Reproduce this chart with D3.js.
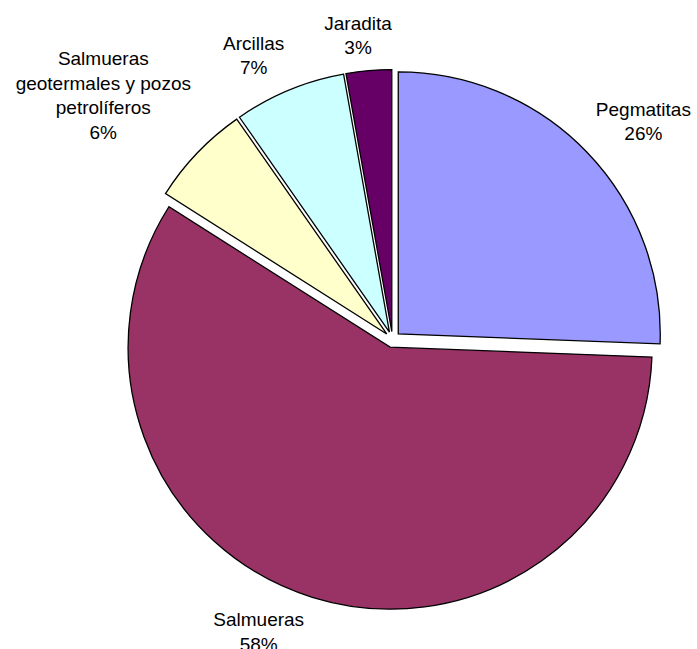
<!DOCTYPE html>
<html>
<head>
<meta charset="utf-8">
<script src="https://cdn.jsdelivr.net/npm/d3@7"></script>
<style>
  html, body { margin: 0; padding: 0; background: #fff; }
  svg { display: block; }
  text { font-family: "Liberation Sans", Arial, sans-serif; font-size: 19px; fill: #000; }
</style>
</head>
<body>
<svg id="chart" width="697" height="649"></svg>
<script>
// Lithium sources: share of each deposit type (percent)
const sources = ["Pegmatitas", "Salmueras", "Salmueras geotermales y pozos petrolíferos", "Arcillas", "Jaradita"];
const shares = [25.6, 58.4, 6.3, 6.9, 2.8];
const colors = ["#9999FF", "#993366", "#FFFFCC", "#CCFFFF", "#660066"];
// Line breaks used for each label's name
const labelLines = [["Pegmatitas"], ["Salmueras"], ["Salmueras", "geotermales y pozos", "petrolíferos"], ["Arcillas"], ["Jaradita"]];

const W = 697, H = 649;
const cx = 392.5, cy = 339.5;   // pie centre
const radius = 262;
const explode = 8;              // every slice pulled out along its bisector
const labelGap = 14;
const lineStep = 24.5;
const textDrop = 2.5;           // bbox includes descenders; lower blocks slightly
// small angular nudges (degrees) for the label blocks
const labelNudge = [2.6, 7.5, -3.3, -3.5, -1.3];
const labelLift = [0, 0, 0, 2, -1.5];

const svg = d3.select("#chart");
const total = d3.sum(shares);
const pct = d3.format(".0%");

const pie = d3.pie().sort(null).value(d => d.value);
const arcs = pie(sources.map((name, i) => ({ name, value: shares[i], i })));
const arc = d3.arc().innerRadius(0).outerRadius(radius);

const g = svg.append("g").attr("transform", `translate(${cx},${cy})`);

const mid = d => (d.startAngle + d.endAngle) / 2;

g.selectAll("path.slice")
  .data(arcs)
  .join("path")
  .attr("class", "slice")
  .attr("d", arc)
  .attr("transform", d => {
    const a = mid(d);
    return `translate(${explode * Math.sin(a)},${-explode * Math.cos(a)})`;
  })
  .attr("fill", d => colors[d.data.i])
  .attr("stroke", "#000")
  .attr("stroke-width", 1.3)
  .attr("stroke-linejoin", "miter");

// labels: name lines + percentage, placed just outside the rim
const labels = g.selectAll("g.label")
  .data(arcs)
  .join("g")
  .attr("class", "label");

labels.each(function (d) {
  const el = d3.select(this);
  const t = el.append("text").attr("text-anchor", "middle");
  const lines = labelLines[d.data.i].concat([pct(d.data.value / total)]);
  lines.forEach((s, k) => {
    t.append("tspan").attr("x", 0).attr("y", k * lineStep).text(s);
  });
  const bb = t.node().getBBox();
  const a = mid(d);
  const sa = Math.sin(a), ca = Math.cos(a);
  // radial half-extent of the text block in the direction of the slice
  const support = Math.abs(bb.width / 2 * sa) + Math.abs(bb.height / 2 * ca);
  const dist = radius + explode + labelGap + support;
  const b = a + labelNudge[d.data.i] * Math.PI / 180;
  const px = dist * Math.sin(b), py = -dist * Math.cos(b);
  const ox = px - (bb.x + bb.width / 2);
  const oy = py - (bb.y + bb.height / 2) + textDrop - labelLift[d.data.i];
  el.attr("transform", `translate(${ox},${oy})`);
});
</script>
</body>
</html>
